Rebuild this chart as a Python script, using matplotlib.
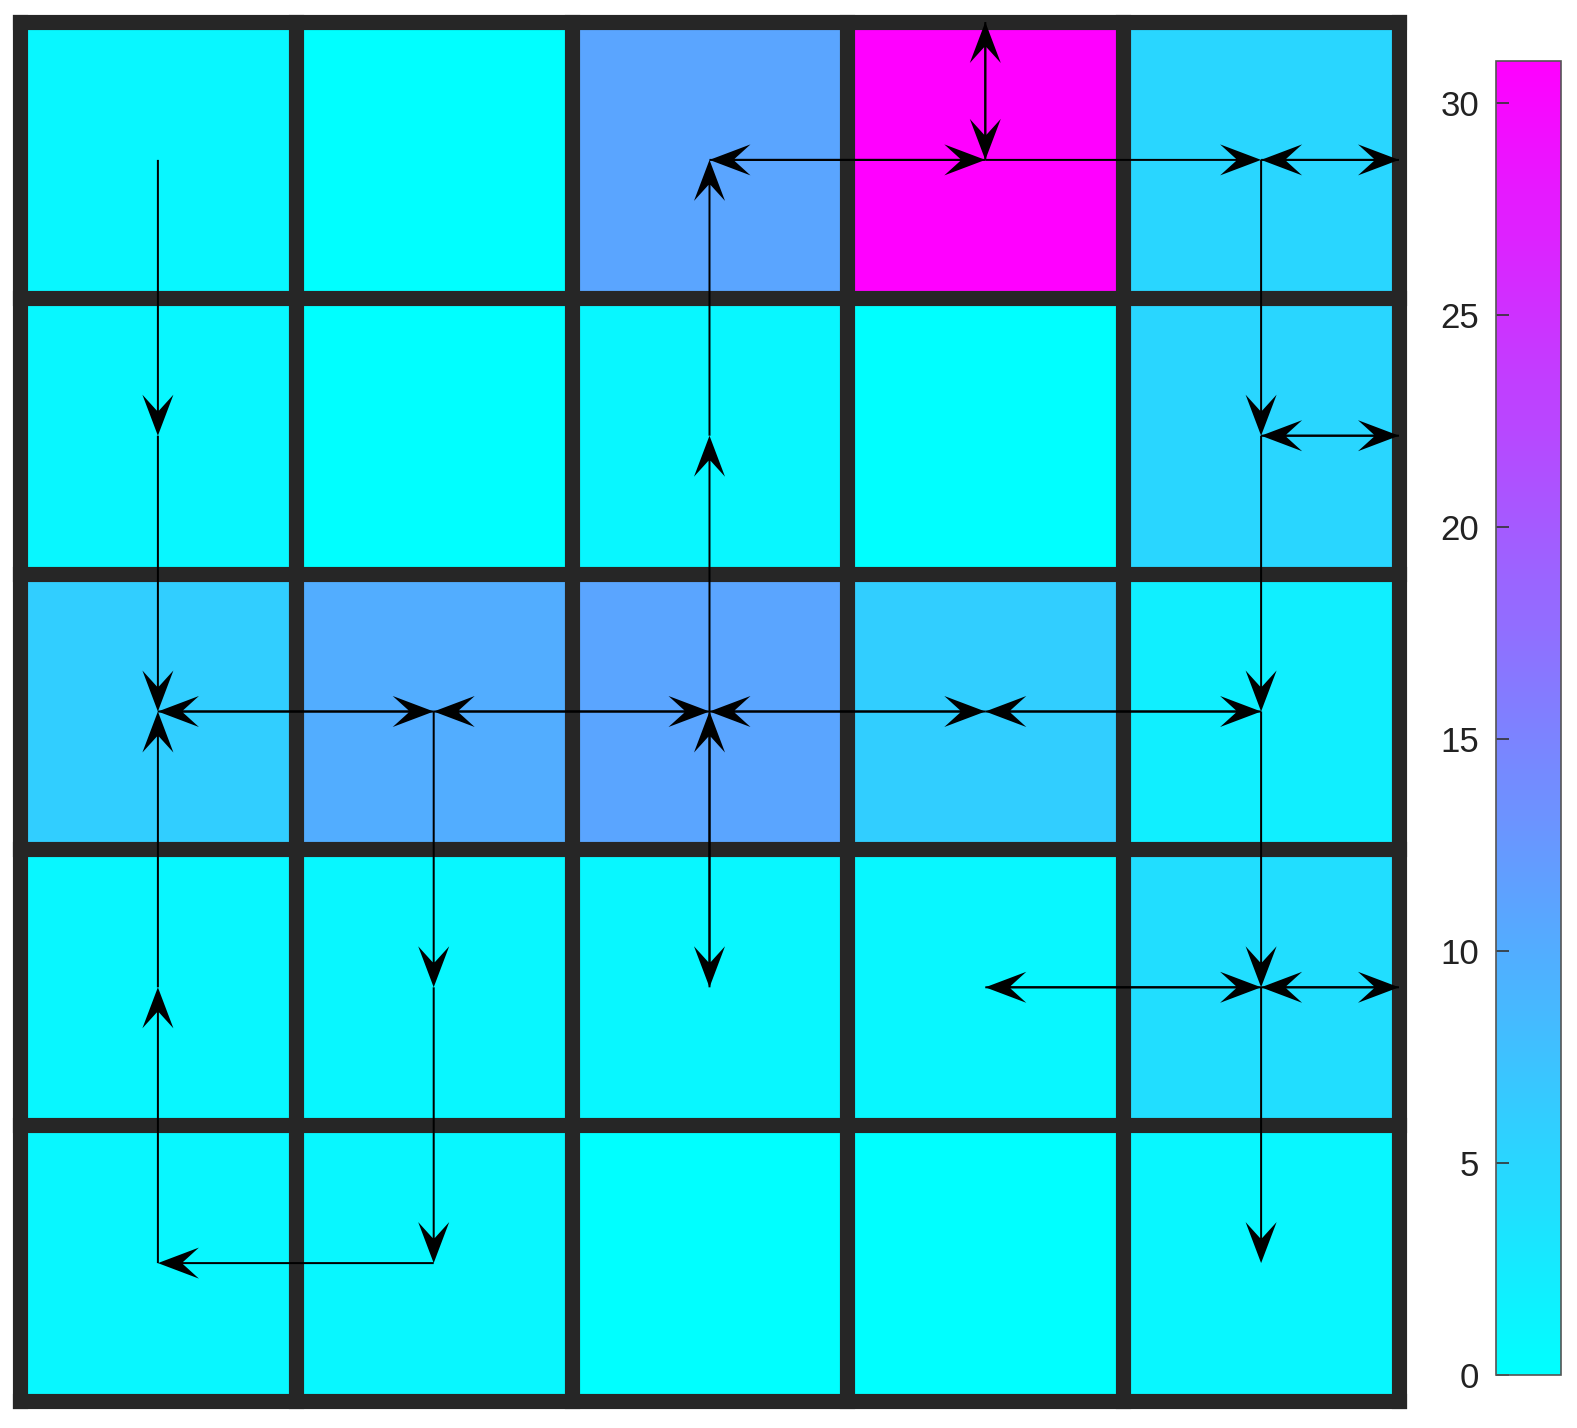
import numpy as np
import matplotlib
matplotlib.use("Agg")
import matplotlib.pyplot as plt

plt.rcParams['font.family'] = ['Liberation Sans', 'DejaVu Sans']

# cell values, rows top -> bottom, cols left -> right
row0 = [1, 0, 11, 31, 5]
row1 = [1, 0, 1, 0, 5]
row2 = [6, 10, 11, 6, 2]
row3 = [1, 1, 1, 1, 4]
row4 = [1, 1, 0, 0, 1]
values = np.array([row0, row1, row2, row3, row4], dtype=float)

# arrows: (row, col) start -> (row, col) end ; -0.5 / 4.5 = grid boundary
arrow_from = [(0, 0), (1, 0), (4, 0), (3, 0),
              (2, 1), (2, 0), (2, 2), (2, 1), (2, 3), (2, 2), (2, 4), (2, 3),
              (2, 2), (1, 2), (3, 2), (2, 2),
              (2, 1), (3, 1), (4, 1),
              (0, 3), (0, 2), (0, 3), (0, 4), (0, 4.5), (0, 3), (-0.5, 3),
              (0, 4), (1, 4), (2, 4), (3, 4),
              (1, 4), (1, 4.5),
              (3, 4), (3, 3), (3, 4), (3, 4.5)]
arrow_to = [(1, 0), (2, 0), (3, 0), (2, 0),
            (2, 0), (2, 1), (2, 1), (2, 2), (2, 2), (2, 3), (2, 3), (2, 4),
            (1, 2), (0, 2), (2, 2), (3, 2),
            (3, 1), (4, 1), (4, 0),
            (0, 2), (0, 3), (0, 4), (0, 4.5), (0, 4), (-0.5, 3), (0, 3),
            (1, 4), (2, 4), (3, 4), (4, 4),
            (1, 4.5), (1, 4),
            (3, 3), (3, 4), (3, 4.5), (3, 4)]

vmin, vmax = 0, 31
cbar_ticks = [0, 5, 10, 15, 20, 25, 30]

W, H = 1577, 1428
fig = plt.figure(figsize=(W / 100, H / 100), dpi=100)

ax = fig.add_axes([20 / W, 1 - 1401 / H, 1379 / W, 1379 / H])
n = values.shape[0]
edges = np.arange(n + 1) - 0.5
mesh = ax.pcolormesh(edges, edges, values[::-1], cmap='cool', vmin=vmin, vmax=vmax)
ax.set_xlim(-0.5, n - 0.5)
ax.set_ylim(-0.5, n - 0.5)
ax.set_axis_off()

lw = 10.9
grid_col = '#262626'
hl = ax.hlines(edges, -0.5, n - 0.5, colors=grid_col, linewidth=lw, clip_on=False, zorder=3)
vl = ax.vlines(edges, -0.5, n - 0.5, colors=grid_col, linewidth=lw, clip_on=False, zorder=3)
hl.set_capstyle('projecting')
vl.set_capstyle('projecting')

fr = np.array(arrow_from, dtype=float)
to = np.array(arrow_to, dtype=float)
x = fr[:, 1]
y = (n - 1) - fr[:, 0]
u = to[:, 1] - fr[:, 1]
v = -(to[:, 0] - fr[:, 0])
ax.quiver(x, y, u, v, angles='xy', scale_units='xy', scale=1,
          width=2.0 / 1379, headwidth=15.5, headlength=20.5, headaxislength=12.5,
          color='black', zorder=5, clip_on=False)

cax = fig.add_axes([1496 / W, 1 - 1375 / H, 65 / W, (1375 - 61) / H])
cb = fig.colorbar(mesh, cax=cax)
cb.set_ticks(cbar_ticks)
cax.yaxis.set_ticks_position('left')
cax.yaxis.set_label_position('left')
cax.tick_params(axis='y', direction='in', length=9, width=1.2, colors='#333333',
                labelsize=25, pad=12, labelcolor='#222222')
cb.outline.set_edgecolor('#555555')
cb.outline.set_linewidth(1.2)

fig.savefig('out.png', dpi=100)
